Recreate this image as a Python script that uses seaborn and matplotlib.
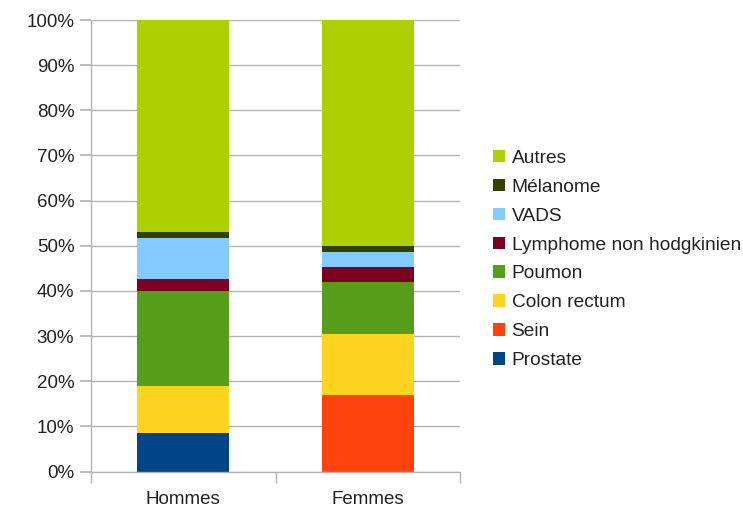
import matplotlib
matplotlib.use("Agg")
import matplotlib.pyplot as plt
import seaborn as sns
import pandas as pd
import numpy as np
from matplotlib.ticker import PercentFormatter, FixedLocator

groups = ["Hommes", "Femmes"]
categories = ["Prostate", "Sein", "Colon rectum", "Poumon",
              "Lymphome non hodgkinien", "VADS", "Mélanome", "Autres"]
prostate = [8.5, 0.0]
sein = [0.0, 17.0]
colon = [10.4, 13.4]
poumon = [21.1, 11.6]
lymphome = [2.6, 3.3]
vads = [9.1, 3.4]
melanome = [1.3, 1.3]
autres = [47.0, 50.0]
colors = ["#004586", "#ff420e", "#ffd320", "#579d1c",
          "#7e0021", "#83caff", "#314004", "#aecf00"]

values = np.array([prostate, sein, colon, poumon, lymphome, vads, melanome, autres])
cum = np.cumsum(values, axis=0)

sns.set_theme(style="white")
plt.rcParams["font.family"] = ["Liberation Sans", "DejaVu Sans"]
text_color = "#222222"

fig = plt.figure(figsize=(7.43, 5.09), dpi=100)
ax = fig.add_axes([91/743, 1 - 471.5/509, (460-91)/743, (471.5-20)/509])

for i in range(len(categories) - 1, -1, -1):
    df = pd.DataFrame({"group": groups, "value": cum[i]})
    sns.barplot(data=df, x="group", y="value", color=colors[i], width=0.5,
                saturation=1, label=categories[i], ax=ax, zorder=2,
                linewidth=0)

if ax.get_legend() is not None:
    ax.get_legend().remove()

ax.set_ylim(0, 100)
ax.set_xlim(-0.5, 1.5)
ax.yaxis.set_major_locator(FixedLocator(np.arange(0, 101, 10)))
ax.yaxis.set_major_formatter(PercentFormatter(decimals=0))
ax.grid(axis="y", color="#b3b3b3", linewidth=1, zorder=0)
ax.set_axisbelow(True)
ax.set_xlabel("")
ax.set_ylabel("")
for s in ["top", "right"]:
    ax.spines[s].set_visible(False)
for s in ["left", "bottom"]:
    ax.spines[s].set_color("#b3b3b3")
    ax.spines[s].set_linewidth(1)
ax.tick_params(axis="y", which="major", left=True, length=8, color="#b3b3b3",
               labelsize=13.5, labelcolor=text_color, pad=4)
ax.tick_params(axis="x", which="major", bottom=False, length=0,
               labelsize=13.5, labelcolor=text_color, pad=14)
ax.xaxis.set_minor_locator(FixedLocator([-0.5, 0.5, 1.5]))
ax.tick_params(axis="x", which="minor", bottom=True, length=8, color="#b3b3b3")

handles, labels = ax.get_legend_handles_labels()
fig.legend(handles, labels, loc="center left",
           bbox_to_anchor=(493/743, 1 - 259.5/509), frameon=False,
           handlelength=0.62, handleheight=0.62, handletextpad=0.35,
           labelspacing=0.62, fontsize=13.8, labelcolor=text_color,
           borderaxespad=0, borderpad=0)

fig.savefig("out.png", dpi=100)
